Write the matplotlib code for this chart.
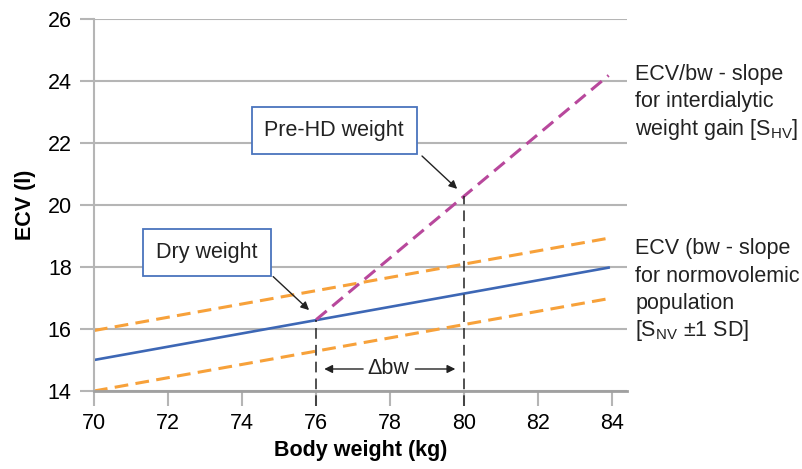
import matplotlib
matplotlib.use("Agg")
import matplotlib.pyplot as plt

plt.rcParams['font.family'] = ['Liberation Sans', 'DejaVu Sans']
plt.rcParams['mathtext.fontset'] = 'custom'
plt.rcParams['mathtext.rm'] = 'Liberation Sans'
plt.rcParams['mathtext.it'] = 'Liberation Sans'

# Daten: Geraden ECV gegen Körpergewicht
bw_range = [70, 83.9]
ecv_normal = [15.0, 17.98]
ecv_upper = [15.95, 18.93]
ecv_lower = [14.0, 16.98]
bw_hyper = [76, 83.9]
ecv_hyper = [16.3, 24.18]
dry_bw, dry_ecv = 76, 16.3
pre_bw, pre_ecv = 80, 20.3

x_ticks = [70, 72, 74, 76, 78, 80, 82, 84]
y_ticks = [14, 16, 18, 20, 22, 24, 26]

grid_col = '#b5b5b5'
blue = '#3d67b5'
orange = '#f7a13a'
magenta = '#b8489c'
box_edge = '#4a74bd'
txt_col = '#222222'

fig = plt.figure(figsize=(8.03, 4.69), dpi=100)
ax = fig.add_axes([0.117, 0.1663, 0.664, 0.7932])
ax.set_xlim(70, 84.4)
ax.set_ylim(14, 26)

for s in ['top', 'right']:
    ax.spines[s].set_visible(False)
ax.spines['left'].set_color(grid_col)
ax.spines['bottom'].set_color('#a0a0a0')
ax.spines['left'].set_linewidth(1.5)
ax.spines['bottom'].set_linewidth(2)

ax.set_xticks(x_ticks)
ax.set_yticks(y_ticks)
ax.tick_params(axis='y', length=10, width=1.5, color=grid_col, labelsize=15.5, pad=6)
ax.tick_params(axis='x', length=11, width=1.5, color=grid_col, labelsize=15.5, pad=5)
ax.yaxis.grid(True, color=grid_col, linewidth=1.5)
ax.set_axisbelow(True)

ax.set_xlabel('Body weight (kg)', fontsize=15.5, fontweight='bold', labelpad=4)
ax.set_ylabel('ECV (l)', fontsize=15.5, fontweight='bold', labelpad=8)

# Linien
ax.plot(bw_range, ecv_upper, color=orange, lw=2.2, ls=(0, (4.5, 2.4)))
ax.plot(bw_range, ecv_lower, color=orange, lw=2.2, ls=(0, (4.5, 2.4)))
ax.plot(bw_range, ecv_normal, color=blue, lw=1.9)
ax.plot(bw_hyper, ecv_hyper, color=magenta, lw=2.2, ls=(0, (4.5, 2.4)))

# senkrechte Hilfslinien
ax.plot([dry_bw, dry_bw], [13.52, dry_ecv], color=txt_col, lw=1.1,
        ls=(0, (7, 4)), clip_on=False)
ax.plot([pre_bw, pre_bw], [13.52, pre_ecv], color=txt_col, lw=1.1,
        ls=(0, (7, 4)), clip_on=False)

# Delta bw
ax.text(77.95, 14.71, '\u0394bw', fontsize=15.5, ha='center', va='center', color=txt_col)
arr = dict(arrowstyle='-|>', color=txt_col, lw=1, mutation_scale=12,
           shrinkA=0, shrinkB=0)
ax.annotate('', xy=(76.22, 14.71), xytext=(77.27, 14.71), arrowprops=arr)
ax.annotate('', xy=(79.76, 14.71), xytext=(78.68, 14.71), arrowprops=arr)

# Beschriftungsboxen
box = dict(boxstyle='square,pad=0.6', fc='white', ec=box_edge, lw=1.3)
ax.text(76.49, 22.39, 'Pre-HD weight', fontsize=15.5, ha='center', va='center',
        color=txt_col, bbox=box)
ax.text(73.05, 18.48, 'Dry weight', fontsize=15.5, ha='center', va='center',
        color=txt_col, bbox=box)
ax.annotate('', xy=(79.81, 20.52), xytext=(78.86, 21.58), arrowprops=arr)
ax.annotate('', xy=(75.81, 16.61), xytext=(74.84, 17.69), arrowprops=arr)

# rechte Texte
right_x = 84.62
lines1 = ['ECV/bw - slope', 'for interdialytic', r'weight gain [$\mathrm{S}_{\mathrm{HV}}$]']
ys1 = [24.03, 23.15, 22.26]
lines2 = ['ECV (bw - slope', 'for normovolemic', 'population', r'[$\mathrm{S}_{\mathrm{NV}}$ ±1 SD]']
ys2 = [18.42, 17.53, 16.65, 15.76]
for t, y in zip(lines1 + lines2, ys1 + ys2):
    ax.text(right_x, y, t, fontsize=15.5, ha='left', va='baseline',
            color=txt_col, clip_on=False)

fig.savefig('out.png', dpi=100)
